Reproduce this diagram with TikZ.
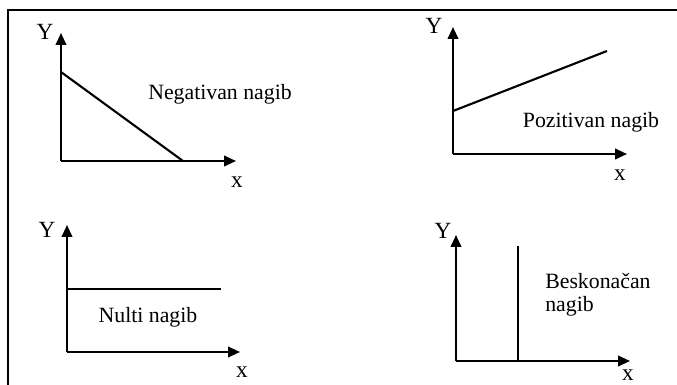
\documentclass[tikz,border=0pt]{standalone}
\usepackage{fontspec}
\setmainfont{Liberation Serif}
\usetikzlibrary{arrows.meta,positioning}
\tikzset{
    slopeaxis/.style={-{Triangle[length=8.5pt,width=7.5pt]},line width=1.5pt},
    slopeline/.style={line width=1.5pt},
    slopetext/.style={font=\fontsize{15.5}{18}\selectfont,inner sep=0pt},
    axislabel/.style={font=\fontsize{16.5}{18}\selectfont,inner sep=0pt},
    frameline/.style={line width=1.5pt}
}

\begin{document}
\begin{tikzpicture}[x=0.025cm,y=-0.025cm]
            \useasboundingbox (0,0) rectangle (677,385);
            \draw[frameline] (8,385) -- (8,10) -- (677,10);
            % negativan nagib
            \coordinate (o1) at (61,161);
            \coordinate (y1) at (61,33);
            \coordinate (x1) at (236,161);
            \coordinate (a1) at (61,72);
            \coordinate (b1) at (183,161);
            \draw[slopeaxis] (o1) -- (y1);
            \draw[slopeaxis] (o1) -- (x1);
            \draw[slopeline] (a1) -- (b1);
            \node[axislabel] (ylab1) at (45,32) {Y};
            \node[axislabel] (xlab1) at (237,182) {x};
            \node[slopetext,anchor=base] (neg) at (220,100) {Negativan nagib};
            % pozitivan nagib
            \coordinate (o2) at (453,154);
            \coordinate (y2) at (453,27);
            \coordinate (x2) at (627,154);
            \coordinate (a2) at (453,111);
            \coordinate (b2) at (607,51);
            \draw[slopeaxis] (o2) -- (y2);
            \draw[slopeaxis] (o2) -- (x2);
            \draw[slopeline] (a2) -- (b2);
            \node[axislabel] (ylab2) at (434,26) {Y};
            \node[axislabel] (xlab2) at (620,175) {x};
            \node[slopetext,anchor=base] (poz) at (591,128) {Pozitivan nagib};
            % nulti nagib
            \coordinate (o3) at (67,352);
            \coordinate (y3) at (67,225);
            \coordinate (x3) at (240,352);
            \coordinate (a3) at (67,289);
            \coordinate (b3) at (221,289);
            \draw[slopeaxis] (o3) -- (y3);
            \draw[slopeaxis] (o3) -- (x3);
            \draw[slopeline] (a3) -- (b3);
            \node[axislabel] (ylab3) at (47,230) {Y};
            \node[axislabel] (xlab3) at (242,372) {x};
            \node[slopetext,anchor=base] (nul) at (148,323) {Nulti nagib};
            % beskonacan nagib
            \coordinate (o4) at (456,361);
            \coordinate (y4) at (456,235);
            \coordinate (x4) at (630,361);
            \coordinate (a4) at (518,246);
            \coordinate (b4) at (518,361);
            \draw[slopeaxis] (o4) -- (y4);
            \draw[slopeaxis] (o4) -- (x4);
            \draw[slopeline] (a4) -- (b4);
            \node[axislabel] (ylab4) at (443,231) {Y};
            \node[axislabel] (xlab4) at (628,375) {x};
            \node[slopetext,anchor=base west] (besk) at (545,289) {Beskonačan};
            \node[slopetext,anchor=base west] (besk2) at (545,312) {nagib};
        \end{tikzpicture}
\end{document}
